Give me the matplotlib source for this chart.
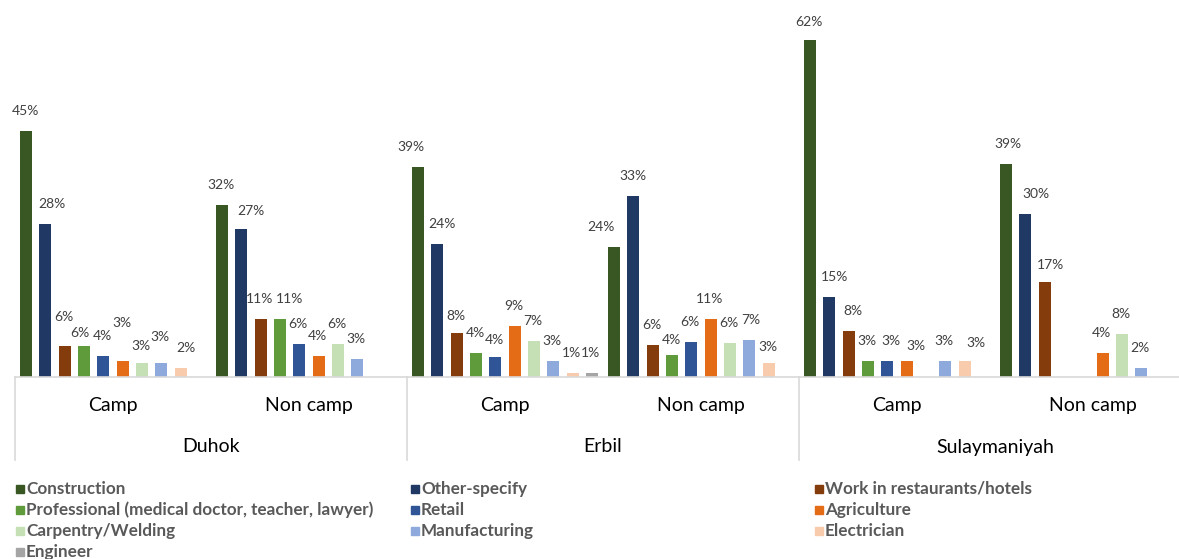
import matplotlib.pyplot as plt
from matplotlib.patches import Rectangle
from matplotlib.transforms import blended_transform_factory
import numpy as np

# chart values (percent of respondents)
regions = ['Duhok', 'Erbil', 'Sulaymaniyah']
settings = ['Camp', 'Non camp']
series = ['Construction', 'Other-specify', 'Work in restaurants/hotels',
          'Professional (medical doctor, teacher, lawyer)', 'Retail', 'Agriculture',
          'Carpentry/Welding', 'Manufacturing', 'Electrician', 'Engineer']
colors = ['#385723', '#203864', '#843C0C', '#5F9B3A', '#2F5597', '#E56C17',
          '#C5E0B4', '#8EA9DB', '#F8CBAD', '#A5A5A5']

# one row per region/setting, one column per series (0 = no answer)
duhok_camp = [45.2, 28.0, 5.7, 5.7, 3.9, 2.9, 2.6, 2.6, 1.7, 0]
duhok_noncamp = [31.6, 27.2, 10.7, 10.7, 6.1, 3.8, 6.1, 3.3, 0, 0]
erbil_camp = [38.6, 24.4, 8.1, 4.4, 3.7, 9.4, 6.6, 2.9, 0.7, 0.7]
erbil_noncamp = [23.9, 33.3, 5.9, 4.1, 6.4, 10.7, 6.2, 6.8, 2.6, 0]
sulay_camp = [61.8, 14.7, 8.4, 2.9, 2.9, 2.9, 0, 2.9, 2.9, 0]
sulay_noncamp = [39.0, 30.0, 17.4, 0, 0, 4.4, 7.8, 1.7, 0, 0]
values = np.array([duhok_camp, duhok_noncamp, erbil_camp,
                   erbil_noncamp, sulay_camp, sulay_noncamp])

# label nudges (pixels, dx right / dy up) where Excel moved labels apart
nudge = {(0, 1): (7, 0), (0, 2): (0, 9), (0, 3): (-3, -7), (0, 5): (0, 18),
         (0, 6): (0, -3), (0, 7): (0, 6), (0, 8): (6, 0),
         (1, 1): (10, -2), (1, 3): (10, 0),
         (2, 0): (-6, 0), (2, 1): (6, 0), (2, 2): (0, -3), (2, 4): (0, -3),
         (3, 0): (-12, 0), (3, 3): (0, -5), (3, 7): (3, 0), (3, 8): (0, -4),
         (4, 0): (0, -2), (4, 1): (6, 0), (4, 2): (5, 0), (4, 4): (5, 0),
         (4, 5): (10, -5), (4, 8): (12, -2),
         (5, 0): (3, 0), (5, 1): (11, 0), (5, 2): (7, -3)}

W, H = 1179, 559
plt.rcParams['font.family'] = ['Lato', 'DejaVu Sans']
fig = plt.figure(figsize=(W / 100, H / 100), dpi=100)
fig.patch.set_facecolor('white')

base_y = 377
ax = fig.add_axes([15 / W, 1 - base_y / H, 1176 / W, base_y / H])
px_per_pct = 5.45
ax.set_ylim(0, base_y / px_per_pct)
ax.set_xlim(-0.5, len(values) - 0.5)

slot = 19.3 / 196
bar_w = 12 / 196
x = np.arange(len(values))
for k, name in enumerate(series):
    pos = x + (k - 4.5) * slot
    vals = values[:, k]
    ax.bar(pos, vals, width=bar_w, color=colors[k], label=name)
    for g, v in enumerate(vals):
        if v <= 0:
            continue
        dx, dy = nudge.get((g, k), (0, 0))
        ax.annotate('%d%%' % round(v), (pos[g], v),
                    xytext=((dx - 1) * 0.72, (20 + dy) * 0.72),
                    textcoords='offset points', ha='center', va='center',
                    fontsize=10, color='#404040')

for s in ['top', 'right', 'left']:
    ax.spines[s].set_visible(False)
ax.spines['bottom'].set_color('#D9D9D9')
ax.spines['bottom'].set_linewidth(1.2)
ax.set_yticks([])
ax.set_xticks([])

trans = blended_transform_factory(ax.transData, ax.transAxes)
sep_bottom = -(460 - base_y) / base_y
for b in [-0.5, 1.5, 3.5, 5.5]:
    ax.plot([b, b], [0, sep_bottom], color='#D9D9D9', lw=1.2,
            transform=trans, clip_on=False)

for g in range(len(values)):
    ax.text(g, -(405 - base_y) / base_y, settings[g % 2], transform=trans,
            ha='center', va='center', fontsize=14, color='#000000')
for r, region in enumerate(regions):
    ax.text(2 * r + 0.5, -(447 - base_y) / base_y, region, transform=trans,
            ha='center', va='center', fontsize=14, color='#000000')

# legend, laid out like the Excel one: three columns, filled row by row
col_x = [16, 411, 815]
row_y = [489, 510, 531, 552]
for k, name in enumerate(series):
    cx = col_x[k % 3]
    cy = row_y[k // 3]
    fig.add_artist(Rectangle((cx / W, 1 - (cy + 4) / H), 8 / W, 8 / H,
                             transform=fig.transFigure, color=colors[k]))
    fig.text((cx + 10) / W, 1 - cy / H, name, ha='left', va='center',
             fontsize=12.3, fontweight='bold', color='#595959')

plt.savefig('out.png', dpi=100)
